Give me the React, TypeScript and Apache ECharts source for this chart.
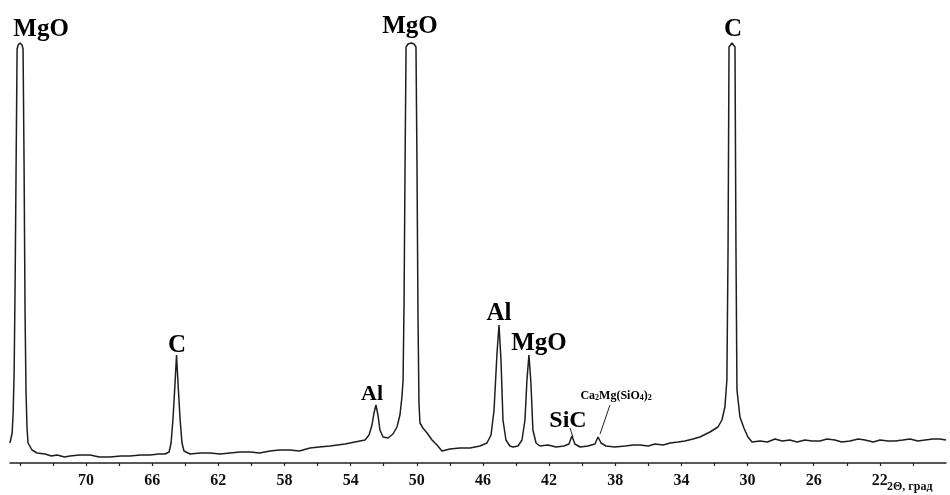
import React, { useEffect, useRef } from "react";
import * as echarts from "echarts";

// 2θ (degrees) and intensity (arbitrary units) of the XRD pattern
const twoTheta = [
  74.6, 74.47, 74.41, 74.35, 74.29, 74.23, 74.17, 74.11, 73.99, 73.87, 73.81, 73.75, 73.69, 73.63, 73.57, 73.51,
  73.27, 72.96, 72.48, 72.1, 71.75, 71.3, 70.97, 70.4, 69.76, 69.2, 68.55, 67.9, 67.34, 66.7, 66.13, 65.6, 65.22,
  64.98, 64.86, 64.74, 64.62, 64.53, 64.44, 64.32, 64.2, 64.08, 63.71, 63.1, 62.5, 61.9, 61.29, 60.7, 60.09, 59.5,
  58.88, 58.3, 57.67, 57.1, 56.46, 55.9, 55.25, 54.8, 54.34, 53.74, 53.13, 52.89, 52.71, 52.59, 52.47, 52.35, 52.23,
  52.04, 51.74, 51.44, 51.2, 51.02, 50.9, 50.83, 50.77, 50.71, 50.65, 50.53, 50.35, 50.17, 50.05, 49.99, 49.93,
  49.87, 49.81, 49.63, 49.38, 49.08, 48.78, 48.48, 48.0, 47.39, 46.78, 46.18, 45.76, 45.51, 45.33, 45.15, 45.03,
  44.91, 44.79, 44.61, 44.37, 44.18, 43.88, 43.64, 43.46, 43.34, 43.22, 43.1, 42.98, 42.79, 42.55, 42.07, 41.58,
  41.1, 40.8, 40.62, 40.44, 40.13, 39.65, 39.23, 39.04, 38.86, 38.56, 38.02, 37.41, 36.9, 36.51, 36.0, 35.6, 35.1,
  34.69, 34.2, 33.79, 33.3, 32.88, 32.27, 31.79, 31.55, 31.37, 31.25, 31.18, 31.12, 30.94, 30.76, 30.7, 30.64,
  30.46, 30.22, 29.98, 29.73, 29.25, 28.8, 28.34, 27.9, 27.44, 27.0, 26.53, 26.1, 25.62, 25.2, 24.72, 24.3, 23.81,
  23.3, 22.9, 22.4, 21.99, 21.5, 21.09, 20.6, 20.18, 19.7, 19.27, 18.8, 18.37, 18.0,
];
const intensity = [
  20, 30, 50, 90, 180, 300, 414, 418, 420, 418, 414, 300, 150, 70, 35, 20,
  13, 10, 9, 7, 8, 6, 7, 8, 8, 6, 6, 7, 7, 8, 8, 9, 9,
  11, 20, 45, 80, 108, 80, 45, 20, 12, 9, 10, 10, 9, 10, 11, 11, 10,
  12, 13, 13, 12, 15, 16, 17, 18, 19, 21, 23, 28, 38, 50, 58, 48, 33,
  26, 25, 29, 36, 48, 66, 83, 163, 300, 416, 419, 420, 419, 416, 300, 150,
  60, 40, 35, 30, 23, 18, 12, 14, 15, 15, 17, 20, 28, 53, 110, 138,
  103, 43, 23, 17, 16, 17, 23, 43, 83, 108, 80, 33, 20, 17, 18, 16,
  17, 19, 27, 19, 16, 17, 19, 26, 20, 17, 16, 17, 18, 18, 17, 19, 18,
  20, 21, 22, 24, 26, 31, 36, 43, 56, 83, 213, 416, 420, 416, 213, 73,
  46, 35, 26, 21, 22, 21, 24, 22, 23, 21, 23, 22, 22, 24, 23, 21, 22,
  24, 23, 21, 23, 22, 22, 23, 24, 22, 23, 24, 24, 23,
];

// Phase annotations
const labelTexts = ["MgO", "MgO", "C", "C", "Al", "Al", "MgO", "SiC", "Ca{s|2}Mg(SiO{s|4}){s|2}"];
const labelTheta = [72.72, 50.41, 30.88, 64.5, 52.71, 45.03, 42.61, 40.86, 37.95];
const labelIntensity = [436, 439, 436, 120, 71, 152, 122, 44, 68];
const labelSizes = [25, 25, 25, 25, 22, 25, 25, 24, 12];

// Leader lines [θ1, I1, θ2, I2]
const leaderLines = [
  [40.74, 35, 40.56, 26],
  [38.92, 29, 38.32, 58],
];

// Axis tick labels
const tickLabels = [70, 66, 62, 58, 54, 50, 46, 42, 38, 34, 30, 26, 22];
const axisTitle = "2Θ, град";

const FONT = "'Liberation Serif', 'Times New Roman', serif";

export default function App() {
  const ref = useRef<HTMLDivElement>(null);
  useEffect(() => {
    if (!ref.current) return;
    const chart = echarts.init(ref.current, undefined, { renderer: "svg" });
    const trace = twoTheta.map((t, i) => [t, intensity[i]]);
    const labels = labelTexts.map((txt, i) => ({
      value: [labelTheta[i], labelIntensity[i]],
      name: txt,
      label: { fontSize: labelSizes[i] },
    }));
    const leaders = leaderLines.map((l) => ({
      type: "line",
      data: [
        [l[0], l[1]],
        [l[2], l[3]],
      ],
      showSymbol: false,
      silent: true,
      lineStyle: { color: "#222", width: 1 },
    }));
    chart.setOption({
      animation: false,
      grid: { left: 10, right: 4, top: 0, bottom: 32 },
      xAxis: {
        type: "value",
        inverse: true,
        min: 18,
        max: 74.6,
        interval: 2,
        splitLine: { show: false },
        axisLine: { lineStyle: { color: "#222", width: 1.5 } },
        axisTick: { show: true, length: 3, lineStyle: { color: "#222", width: 1.2 } },
        axisLabel: {
          margin: 8,
          fontFamily: FONT,
          fontWeight: "bold",
          fontSize: 16,
          color: "#111",
          showMaxLabel: false,
          showMinLabel: false,
          formatter: (v: number) => (tickLabels.indexOf(Math.round(v * 100) / 100) >= 0 ? String(v) : ""),
        },
      },
      yAxis: { type: "value", min: 0, max: 463, show: false },
      series: [
        {
          type: "line",
          data: trace,
          showSymbol: false,
          silent: true,
          lineStyle: { color: "#1e1e1e", width: 1.5 },
        },
        ...leaders,
        {
          type: "scatter",
          data: labels,
          symbolSize: 0,
          silent: true,
          itemStyle: { opacity: 1 },
          label: {
            show: true,
            position: "inside",
            formatter: (p: any) => p.name,
            fontFamily: FONT,
            fontWeight: "bold",
            color: "#000",
            rich: {
              s: { fontSize: 8, fontFamily: FONT, fontWeight: "bold", color: "#000", verticalAlign: "bottom", padding: [5, 0, 0, 0] },
            },
          },
        },
      ],
      graphic: [
        {
          type: "text",
          left: 887,
          top: 480,
          style: { text: axisTitle, font: `bold 12px ${FONT}`, fill: "#111" },
        },
      ],
    });
    return () => chart.dispose();
  }, []);
  return <div ref={ref} style={{ position: "fixed", left: 0, top: 0, width: 950, height: 495 }} />;
}
